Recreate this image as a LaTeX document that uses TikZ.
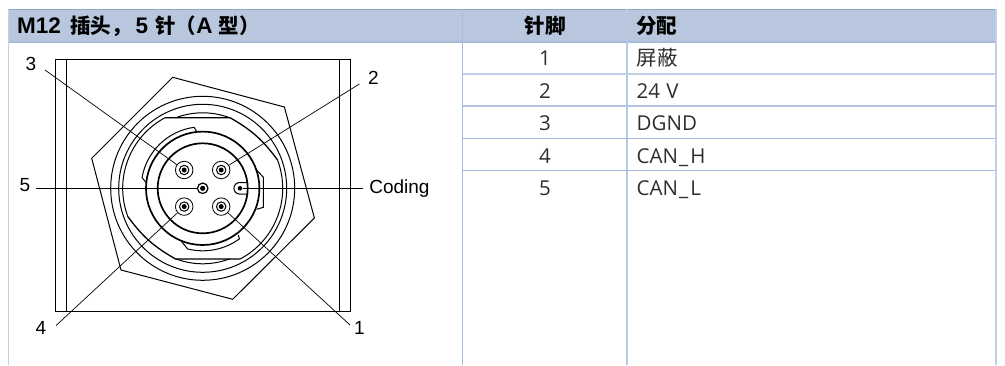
\documentclass[tikz,border=0pt]{standalone}
\usepackage{fontspec}
\setmainfont{Open Sans}
\newfontfamily\cjk{Noto Sans CJK SC}
\newfontfamily\arial{Liberation Sans}
\newcommand{\zh}[1]{{\cjk\fontsize{20.5}{24}\selectfont #1}}
\definecolor{headfill}{HTML}{B8C7DD}
\definecolor{headline}{HTML}{8FA8C8}
\definecolor{gridline}{HTML}{A6BCDB}
\definecolor{bodytext}{HTML}{2E2E2E}
\tikzset{
  headtext/.style={font=\fontsize{22.5}{24}\selectfont\bfseries, text=black, inner sep=0pt},
  celltext/.style={font=\fontsize{20.5}{24}\selectfont, text=bodytext, inner sep=0pt},
  pinlabel/.style={font=\arial\fontsize{19}{22}\selectfont, inner sep=0pt},
  lead/.style={line width=0.7pt},
  ringline/.style={line width=1pt},
  wall/.style={line width=1.7pt},
  pinout/.style={circle, draw, line width=0.8pt, minimum size=17.5pt, inner sep=0pt, fill=white,
    path picture={\draw[line width=1pt] (path picture bounding box.center) circle (4.7pt);
      \fill[black] (path picture bounding box.center) circle (2.5pt);}},
  pinmid/.style={circle, draw, line width=1.2pt, minimum size=10.5pt, inner sep=0pt, fill=white,
    path picture={\fill[black] (path picture bounding box.center) circle (2.6pt);}},
  keydot/.style={circle, fill, minimum size=4.6pt, inner sep=0pt}
}
\begin{document}
\begin{tikzpicture}[x=1pt, y=1pt]
  \useasboundingbox (0,0) rectangle (1005,365);
  %
  \fill[headfill] (8.5,323) rectangle (996,355.7);          % header band
  \draw[headline, line width=1.2pt] (8.5,355.7) -- (996,355.7);
  \draw[gridline, line width=1.4pt] (8.5,323) -- (996,323);
  %
  \draw[gridline!70, line width=1.2pt] (8.5,355.7) -- (8.5,0);     % cols
  \draw[gridline, line width=1.2pt] (462.5,355.7) -- (462.5,0);
  \draw[gridline!80, line width=1.4pt] (627,355.7) -- (627,0);
  \draw[gridline!70, line width=1.2pt] (996,355.7) -- (996,0);
  %
  \draw[gridline!70, line width=1.2pt] (462.5,291) -- (996,291);   % rows
  \draw[gridline!85, line width=1.2pt] (462.5,259) -- (996,259);
  \draw[gridline, line width=1pt] (462.5,227) -- (996,227);
  \draw[gridline, line width=1pt] (462.5,195) -- (996,195);
  %
  \node[headtext, anchor=base west] (headplug) at (17,331.5)
    {\arial M12\hspace{3pt} \zh{插头，}\hspace{4pt}5\hspace{1pt} \zh{针（}A \zh{型）}};
  \node[headtext, anchor=base] (headpin) at (545,331.5) {\zh{针脚}};
  \node[headtext, anchor=base west] (headsig) at (636,331.5) {\zh{分配}};
  %
  \node[celltext, anchor=base] (pinA) at (545,299) {1};                  % first row
  \node[celltext, anchor=base west] (sigA) at (636.5,299) {\zh{屏蔽}};
  %
  \node[celltext, anchor=base] (pinB) at (545,266.5) {2};                % second row
  \node[celltext, anchor=base west] (sigB) at (636.5,266.5) {24\hspace{1pt} V};
  %
  \node[celltext, anchor=base] (pinC) at (545,234) {3};                  % third row
  \node[celltext, anchor=base west] (sigC) at (636.5,234) {DGND};
  %
  \node[celltext, anchor=base] (pinD) at (545,202) {4};                  % fourth row
  \node[celltext, anchor=base west] (sigD) at (636.5,202) {CAN\hspace{1pt}\_\hspace{2pt}H};
  %
  \node[celltext, anchor=base] (pinE) at (545,170) {5};                  % fifth row
  \node[celltext, anchor=base west] (sigE) at (636.5,170) {CAN\hspace{1pt}\_\hspace{2pt}L};
  %
  \begin{scope}[shift={(202.7,176.7)}]
    \draw[ringline] (-147,-123.3) rectangle (147.3,129);    % housing
    \draw[ringline] (-136.3,-123.3) -- (-136.3,129);
    \draw[ringline] (136.7,-123.3) -- (136.7,129);
    %
    \draw[ringline] (-30,111) -- (81.7,81.3) -- (111.7,-29.7) -- (30,-111)
      -- (-81.7,-81.7) -- (-111,30) -- cycle;               % hex nut
    %
    \draw[ringline] (0,0) circle (92);
    \draw[ringline] (0,0) circle (84);
    %
    \draw[ringline] (118:80) arc (118:200.8:80);            % flats, upper left
    \draw[ringline] (298:80) arc (298:380.8:80);            % flats, lower right
    \draw[line width=1.3pt] (-37.7,70.6) -- (27.3,70.6) to[bend left=12] (20.8:80);
    \draw[line width=1.3pt] (37.7,-70.6) -- (-27.3,-70.6) to[bend left=12] (200.8:80);
    \draw[ringline] (111:75.5) arc (111:69:75.5);
    \draw[ringline] (291:75.5) arc (291:249:75.5);
    %
    \draw[wall] (0,0) circle (56.7);
    \draw[wall] (0,0) circle (45);
    %
    \draw[ringline] (-6,56.7) -- (98:61.6) arc (98:170:61.6) -- (-56,5);      % keys
    \draw[ringline] (52.3,20) -- (60.7,11) -- (60.7,-19) -- (54,-21);
    \draw[ringline] (35.6,-46.7) -- (-54:62.5) arc (-54:-104:62.5) -- (-21,-53.4);
    %
    \draw[line width=1pt] (44.6,5.8) -- (37,5.8) arc (90:270:5.8) -- (44.6,-5.8);  % coding slot
    %
    \node[pinout] (contactA) at (18.5,-18.3) {};
    \node[pinout] (contactB) at (18.5,18.3) {};
    \node[pinout] (contactC) at (-18.5,18.3) {};
    \node[pinout] (contactD) at (-18.5,-18.3) {};
    \node[pinmid] (contactE) at (0,0) {};
    \node[keydot] (slot) at (37.3,0) {};
    %
    \coordinate (leadA) at (147.3,-136.7);
    \coordinate (leadB) at (156.7,104.3);
    \coordinate (leadC) at (-157.7,118.3);
    \coordinate (leadD) at (-146.7,-137.3);
    \coordinate (leadE) at (-167,0);
    \coordinate (leadK) at (160.7,0);
    %
    \draw[lead] (leadA) -- (contactA);
    \draw[lead] (leadB) -- (contactB);
    \draw[lead] (leadC) -- (contactC);
    \draw[lead] (leadD) -- (contactD);
    \draw[lead] (leadE) -- (contactE);
    \draw[lead] (leadK) -- (slot);
    %
    \node[pinlabel] (tagA) at (156.7,-140) {1};
    \node[pinlabel] (tagB) at (170.7,110) {2};
    \node[pinlabel] (tagC) at (-171.7,124) {3};
    \node[pinlabel] (tagD) at (-161.7,-140) {4};
    \node[pinlabel] (tagE) at (-177.7,3.3) {5};
    \node[pinlabel, anchor=west] (tagK) at (166.4,0) {Coding};
  \end{scope}
\end{tikzpicture}
\end{document}
